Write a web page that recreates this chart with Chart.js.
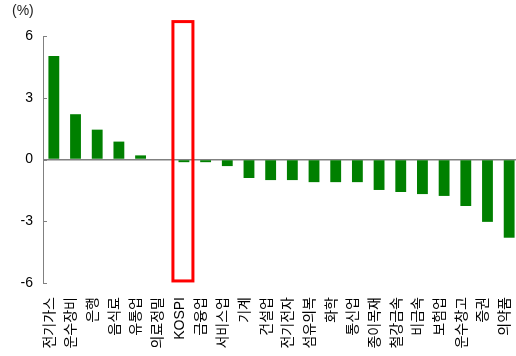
<!DOCTYPE html>
<html>
<head>
<meta charset="utf-8">
<script src="https://cdn.jsdelivr.net/npm/chart.js@4"></script>
<style>
  html, body { margin: 0; padding: 0; background: #fff; overflow: hidden; }
  canvas { display: block; }
</style>
</head>
<body>
<canvas id="grafica" width="520" height="356"></canvas>
<script>
const categorias = ["전기가스", "운수장비", "은행", "음식료", "유통업", "의료정밀", "KOSPI", "금융업", "서비스업", "기계", "건설업",
  "전기전자", "섬유의복", "화학", "통신업", "종이목재", "철강금속", "비금속", "보험업", "운수창고", "증권", "의약품"];
const valores = [5.03, 2.2, 1.45, 0.87, 0.2, 0, -0.13, -0.13, -0.32, -0.9, -1.0,
  -1.0, -1.1, -1.1, -1.1, -1.48, -1.58, -1.68, -1.77, -2.26, -3.03, -3.8];
const ticksY = [6, 3, 0, -3, -6];
const resaltado = "KOSPI";

// marcas del eje y hacia dentro, texto de unidad y recuadro rojo
const extras = {
  id: "extras",
  afterDraw(chart) {
    const { ctx, chartArea, scales } = chart;
    const x = scales.x, y = scales.y;
    ctx.save();
    ctx.strokeStyle = "#808080";
    ctx.lineWidth = 1;
    ctx.beginPath();
    ctx.moveTo(chartArea.left + 0.5, y.getPixelForValue(6));
    ctx.lineTo(chartArea.left + 0.5, y.getPixelForValue(-6));
    ticksY.forEach(v => {
      const py = Math.round(y.getPixelForValue(v)) + 0.5;
      ctx.moveTo(chartArea.left, py);
      ctx.lineTo(chartArea.left + 4, py);
    });
    ctx.stroke();

    ctx.fillStyle = "#222";
    ctx.font = "14px 'Liberation Sans', Arial, sans-serif";
    ctx.textAlign = "left";
    ctx.textBaseline = "middle";
    ctx.fillText("(%)", chartArea.left - 31, chartArea.top - 25);

    const i = categorias.indexOf(resaltado);
    const cx = x.getPixelForValue(i);
    const top = y.getPixelForValue(6.7);
    const bottom = y.getPixelForValue(-5.9);
    ctx.strokeStyle = "#ff0000";
    ctx.lineWidth = 3;
    ctx.strokeRect(cx - 11, top, 20, bottom - top);
    ctx.restore();
  }
};

new Chart(document.getElementById("grafica"), {
  type: "bar",
  data: {
    labels: categorias,
    datasets: [{
      data: valores,
      backgroundColor: "#008000",
      borderWidth: 0,
      categoryPercentage: 1,
      barPercentage: 0.5
    }]
  },
  options: {
    responsive: false,
    animation: false,
    layout: { padding: { top: 36, left: 0, right: 0, bottom: 0 } },
    plugins: { legend: { display: false }, tooltip: { enabled: false } },
    scales: {
      x: {
        afterFit(scale) {
          scale.height = 73;
          scale.paddingLeft = 0;
          scale.paddingRight = 0;
        },
        grid: { display: false },
        border: { display: false },
        ticks: {
          autoSkip: false,
          minRotation: 90,
          maxRotation: 90,
          padding: 6,
          labelOffset: -4,
          color: "#000",
          font: { family: "'Liberation Sans', 'Noto Sans CJK KR', sans-serif", size: 14 }
        }
      },
      y: {
        min: -6,
        max: 6,
        afterFit(scale) {
          scale.width = 43;
          scale.paddingTop = 0;
          scale.paddingBottom = 0;
        },
        afterBuildTicks(scale) { scale.ticks = ticksY.map(v => ({ value: v })); },
        border: { display: false },
        grid: {
          drawTicks: false,
          lineWidth: 1.5,
          color: ctx => ctx.tick && ctx.tick.value === 0 ? "#808080" : "rgba(0,0,0,0)"
        },
        ticks: {
          padding: 10,
          color: "#000",
          font: { family: "'Liberation Sans', Arial, sans-serif", size: 14 }
        }
      }
    }
  },
  plugins: [extras]
});
</script>
</body>
</html>
